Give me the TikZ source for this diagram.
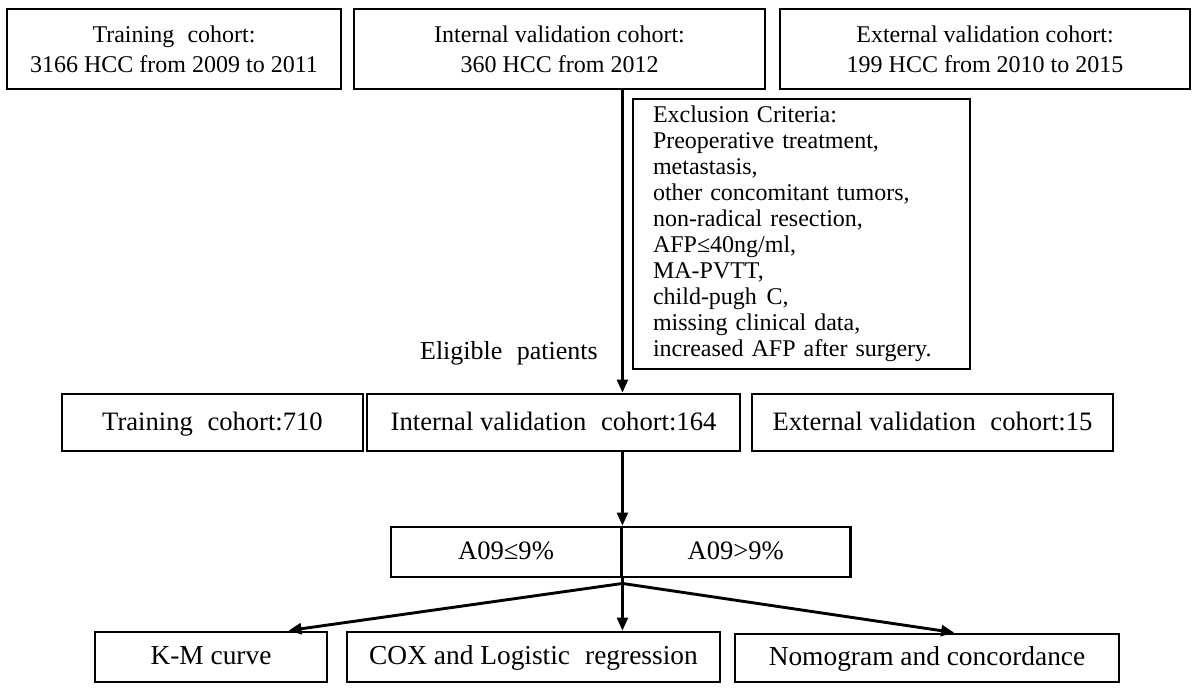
\documentclass[tikz,border=0pt]{standalone}
\usepackage{fontspec}
\setmainfont{Liberation Serif}
\usetikzlibrary{arrows.meta,calc}
\newcommand{\wsp}{\hspace{0.55em}}
\begin{document}
\begin{tikzpicture}[x=0.5pt,y=-0.5pt,
  box/.style={draw,line width=1.45pt,inner sep=0pt,align=center},
  topbox/.style={box,font=\fontsize{12}{15}\selectfont,minimum height=40pt},
  onel/.style={text height=1.03em,text depth=0.24em},
  midbox/.style={box,onel,font=\fontsize{13.3}{16}\selectfont,minimum height=28.5pt},
  botbox/.style={box,onel,font=\fontsize{13.7}{16}\selectfont,minimum height=25pt},
  conn/.style={line width=1.25pt,-{Triangle[length=6.5pt,width=5.5pt]}}]
\useasboundingbox (0,0) rectangle (1200,692);
\fill[white] (0,0) rectangle (1200,692);
% top row
\node[topbox,minimum width=167pt] (tr1) at (174,49) {Training\wsp cohort:\\3166 HCC from 2009 to 2011};
\node[topbox,minimum width=205.5pt] (iv1) at (559.5,49) {Internal validation cohort:\\360 HCC from 2012};
\node[topbox,minimum width=205pt] (ev1) at (985,49) {External validation cohort:\\199 HCC from 2010 to 2015};
% exclusion
\node[draw,line width=1.45pt,inner xsep=10pt,inner ysep=0pt,text width=148.5pt,minimum height=135pt,align=left,font=\fontsize{12}{13}\selectfont] (excl) at (801.5,234)
 {Exclusion Criteria:\\
  Preoperative treatment,\\
  metastasis,\\
  other concomitant tumors,\\
  non-radical resection,\\
  AFP≤40ng/ml,\\
  MA-PVTT,\\
  child-pugh\hspace{0.4em}C,\\
  missing clinical data,\\
  increased AFP after surgery.};
% middle row
\node[midbox,minimum width=150.5pt] (tr2) at (212.5,422.5) {Training\wsp cohort:710};
\node[midbox,minimum width=186.5pt] (iv2) at (553.5,422.5) {Internal validation\wsp cohort:164};
\node[midbox,minimum width=180.5pt] (ev2) at (932.5,422.5) {External validation\wsp cohort:15};
% A09 split box
\node[midbox,minimum width=115pt,minimum height=25pt] (aL) at (506,552) {A09≤9\%};
\node[midbox,minimum width=114.5pt,minimum height=25pt] (aR) at (735.75,552) {A09>9\%};
% bottom row
\node[botbox,minimum width=116pt] (km) at (211,657) {K-M curve};
\node[botbox,minimum width=186.5pt] (cox) at (533.5,657) {COX and Logistic\wsp regression};
\node[botbox,minimum width=192pt,minimum height=24pt] (nom) at (927,658) {Nomogram and concordance};
% label
\node[anchor=base east,inner sep=0pt,font=\fontsize{13}{15}\selectfont] (elig) at (598,359) {Eligible\wsp patients};
% connectors
\draw[conn] (iv1.south -| aL.east) -- (iv2.north -| aL.east);
\draw[conn] (iv2.south -| aL.east) -- (aL.north east);
\coordinate (br) at ($(aL.south east)+(0,5)$);
\draw[conn] (aL.south east) -- (cox.north -| aL.east);
\draw[conn,line width=1.45pt] (br) -- ($(km.north west)!0.83!(km.north east)$);
\draw[conn,line width=1.45pt] (br) -- ($(nom.north west)!0.57!(nom.north east)$);
\end{tikzpicture}
\end{document}
